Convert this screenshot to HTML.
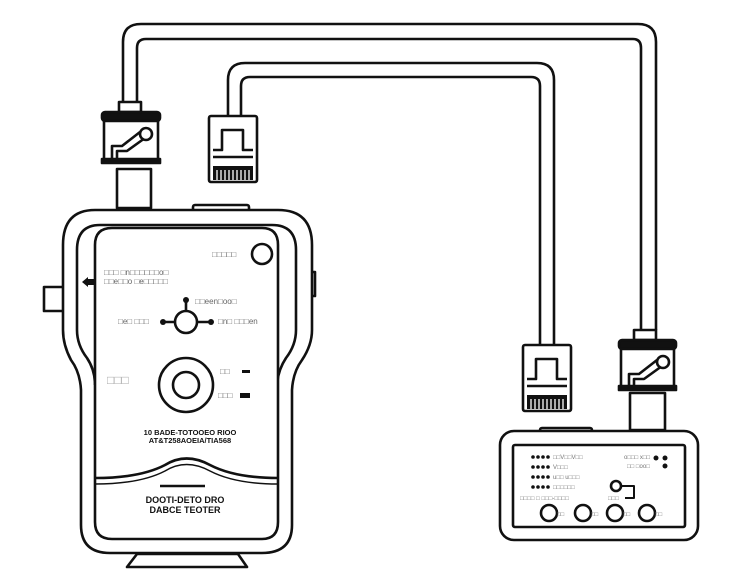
<!DOCTYPE html>
<html><head><meta charset="utf-8"><style>
html,body{margin:0;padding:0;background:#fff;}
svg{display:block;font-family:"Liberation Sans",sans-serif;}
</style></head><body>
<svg width="751" height="585" viewBox="0 0 751 585" xmlns="http://www.w3.org/2000/svg">
<g fill="none" stroke="#111" stroke-width="2.6" stroke-linejoin="round">
<path d="M123 102 V42 Q123 24 141 24 H638 Q656 24 656 42 V330"/>
<path d="M137 102 V48 Q137 39 146 39 H633 Q641 39 641 48 V330"/>
<path d="M228 116 V80 Q228 63 245 63 H537 Q554 63 554 80 V345"/>
<path d="M241 116 V86 Q241 77 250 77 H531 Q540 77 540 86 V345"/>

<rect x="119" y="102" width="22" height="10" fill="#fff"/>
<rect x="102" y="112" width="58" height="9" rx="3" fill="#111"/>
<rect x="104" y="121" width="54" height="40" fill="#fff"/>
<rect x="102" y="159" width="58" height="4" fill="#111"/>
<path d="M112 158 V146 H122 L140 132 M117 158 V151 H127 L145 138"/>
<circle cx="146" cy="134" r="6" fill="#fff"/>
<rect x="117" y="169" width="34" height="39" fill="#fff"/>
<rect x="209" y="116" width="48" height="66" rx="2" fill="#fff"/>
<path d="M213 150 H222 V130 H243 V150 H253 M213 157 H253"/>
<rect x="213" y="166" width="40" height="14" fill="#111" stroke="none"/>
<g stroke="#fff" stroke-width="1.3"><path d="M217 170V180M221 170V180M225 170V180M229 170V180M233 170V180M237 170V180M241 170V180M245 170V180M249 170V180"/></g>

<rect x="193" y="205" width="56" height="7" rx="2" fill="#fff"/>
<rect x="44" y="287" width="20" height="24"/>
<rect x="308" y="272" width="7" height="24"/>
<path d="M95 210 H278 Q312 210 312 245 V330 Q312 345 302 360 Q293 372 292 390 V525 Q292 553 262 553 H110 Q81 553 81 525 V390 Q80 372 71 360 Q63 345 63 330 V245 Q63 210 95 210 Z" fill="#fff"/>
<path d="M100 225 H272 Q296 225 296 250 V330 Q296 345 286 358 Q278 370 277 385 M100 225 Q77 225 77 250 V330 Q77 345 87 358 Q95 370 95 385"/>
<path d="M112 228 H262 Q278 228 278 245 V522 Q278 539 262 539 H112 Q95 539 95 522 V245 Q95 228 112 228 Z" fill="#fff"/>
<path d="M127 567 L137 554 H238 L247 567 Z"/>
<circle cx="262" cy="254" r="10"/>
<path d="M95 478 Q140 478 165 465 Q186 452 210 465 Q235 478 278 478" />
<path d="M95 484 Q140 484 165 471 Q186 458 210 471 Q235 484 278 484" stroke-width="1.5"/>
<line x1="160" y1="486" x2="205" y2="486"/>
<circle cx="186" cy="322" r="11"/>
<path d="M163 322 H175 M197 322 H211 M186 311 V300"/>
<circle cx="186" cy="385" r="27"/>
<circle cx="186" cy="385" r="13"/>
</g>
<g fill="#111">
<circle cx="163" cy="322" r="3"/><circle cx="211" cy="322" r="3"/><circle cx="186" cy="300" r="3"/>
<path d="M82 282 L88 277 V279 H95 V285 H88 V287 Z"/>
<rect x="242" y="370" width="8" height="3"/><rect x="240" y="393" width="10" height="5"/>
</g>
<g font-size="8" fill="#666">
<text x="212" y="257">□□□□□</text>
<text x="104" y="275">□□□ □n□□□□□□o□</text>
<text x="104" y="284">□□e□□o □e□□□□□</text>
<text x="195" y="304">□□een□oo□</text>
<text x="118" y="324">□e□ □□□</text>
<text x="218" y="324">□n□ □□□en</text>
<text x="220" y="374">□□</text>
<text x="218" y="398">□□□</text>
<text x="107" y="384" font-size="12" fill="#aaa">□□□</text>
</g>
<g font-size="7.5" font-weight="bold" fill="#111" text-anchor="middle">
<text x="190" y="435">10 BADE-TOTOOEO RIOO</text>
<text x="190" y="443">AT&amp;T258AOEIA/TIA568</text>
<text x="185" y="503" font-size="9">DOOTI-DETO DRO</text>
<text x="185" y="513" font-size="9">DABCE  TEOTER</text>
</g>

<g fill="none" stroke="#111" stroke-width="2.6" stroke-linejoin="round">
<rect x="523" y="345" width="48" height="66" rx="2" fill="#fff"/>
<path d="M527 379 H536 V359 H557 V379 H567 M527 386 H567"/>
<rect x="527" y="395" width="40" height="14" fill="#111" stroke="none"/>
<g stroke="#fff" stroke-width="1.3"><path d="M531 399V409M535 399V409M539 399V409M543 399V409M547 399V409M551 399V409M555 399V409M559 399V409M563 399V409"/></g>
<rect x="634" y="330" width="22" height="10" fill="#fff"/>
<rect x="619" y="340" width="57" height="9" rx="3" fill="#111"/>
<rect x="621" y="349" width="53" height="38" fill="#fff"/>
<rect x="619" y="386" width="57" height="4" fill="#111"/>
<path d="M629 386 V374 H639 L657 360 M634 386 V379 H644 L662 366"/>
<circle cx="663" cy="362" r="6" fill="#fff"/>
<rect x="630" y="393" width="35" height="37" fill="#fff"/>
<rect x="540" y="428" width="52" height="6" rx="2" fill="#fff"/>
<rect x="500" y="431" width="198" height="109" rx="14" fill="#fff"/>
<rect x="513" y="445" width="172" height="82" rx="2"/>
<circle cx="549" cy="513" r="8"/><circle cx="583" cy="513" r="8"/><circle cx="615" cy="513" r="8"/><circle cx="647" cy="513" r="8"/>
<circle cx="616" cy="486" r="5"/>
<path d="M621 486 H634 V498 H625" stroke-width="2"/>
</g>
<g fill="#111">
<circle cx="533" cy="457" r="1.8"/><circle cx="538" cy="457" r="1.8"/><circle cx="543" cy="457" r="1.8"/><circle cx="548" cy="457" r="1.8"/>
<circle cx="533" cy="467" r="1.8"/><circle cx="538" cy="467" r="1.8"/><circle cx="543" cy="467" r="1.8"/><circle cx="548" cy="467" r="1.8"/>
<circle cx="533" cy="477" r="1.8"/><circle cx="538" cy="477" r="1.8"/><circle cx="543" cy="477" r="1.8"/><circle cx="548" cy="477" r="1.8"/>
<circle cx="533" cy="487" r="1.8"/><circle cx="538" cy="487" r="1.8"/><circle cx="543" cy="487" r="1.8"/><circle cx="548" cy="487" r="1.8"/>
<circle cx="656" cy="458" r="2.5"/><circle cx="665" cy="458" r="2.5"/><circle cx="665" cy="466" r="2.5"/>
</g>
<g font-size="6" fill="#777">
<text x="553" y="459">□□V□□V□□</text>
<text x="553" y="469">V□□□</text>
<text x="553" y="479">u□□ u□□□</text>
<text x="553" y="489">□□□□□□</text>
<text x="624" y="459">o□□□ x□□</text>
<text x="627" y="468">□□ □oo□</text>
<text x="520" y="500">□□□□ □ □□□-□□□□</text>
<text x="608" y="500">□□□</text>
<text x="557" y="516">□□</text><text x="591" y="516">□□</text><text x="623" y="516">□□</text><text x="655" y="516">□□</text>
</g>
</svg>
</body></html>
